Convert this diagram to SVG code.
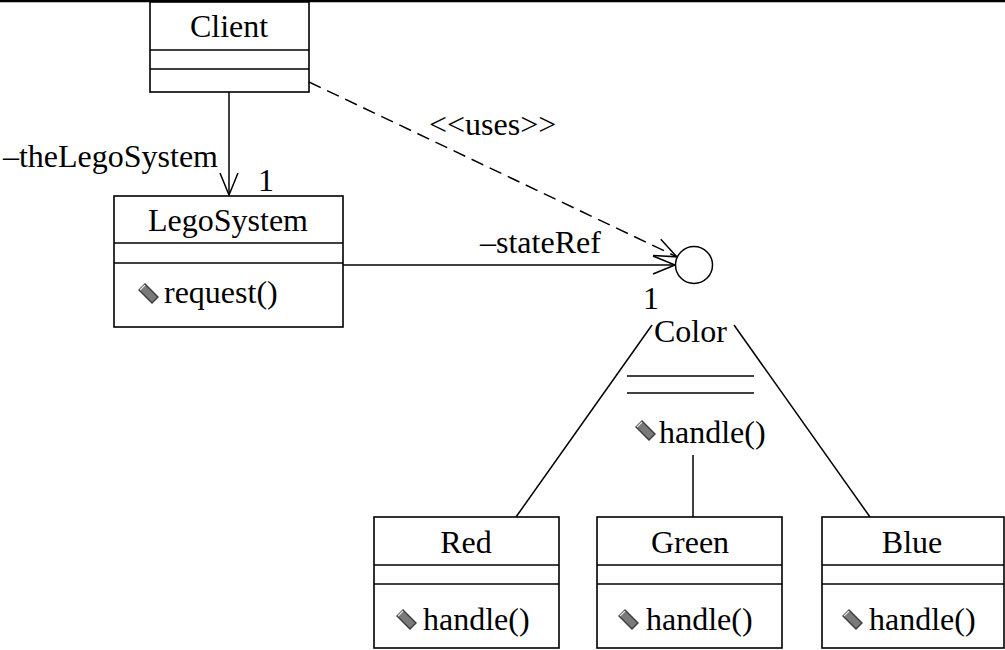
<svg xmlns="http://www.w3.org/2000/svg" width="1005" height="650" viewBox="0 0 1005 650" font-family="'Liberation Serif', 'DejaVu Serif', serif" font-size="32">
<style>
  .box { fill: #ffffff; stroke: #000000; stroke-width: 1.6; }
  .sep { stroke: #000000; stroke-width: 1.6; }
  .ln { fill: none; stroke: #000000; stroke-width: 1.5; }
  .dash { fill: none; stroke: #000000; stroke-width: 1.5; stroke-dasharray: 13 7; }
  .t { font-family: 'Liberation Serif', 'DejaVu Serif', serif; font-size: 32px; fill: #000000; }
  .c { text-anchor: middle; }
  .e { text-anchor: end; }
</style>
<defs>
  <marker id="open" markerUnits="userSpaceOnUse" viewBox="-24 -11 26 22" markerWidth="26" markerHeight="22" refX="0" refY="0" orient="auto" overflow="visible">
    <path d="M -22,-9 L 0,0 L -22,9" fill="none" stroke="#000000" stroke-width="1.5"/>
  </marker>
  <g id="op">
    <polygon points="0,7 6,1 19,14 13,20" fill="#7a7a7a" stroke="#3a3a3a" stroke-width="1.4"/>
    <polyline points="1,7 6,2" fill="none" stroke="#e8e8e8" stroke-width="1.2"/>
  </g>
</defs>
<rect x="0" y="0" width="1005" height="650" fill="#ffffff"/>
<line x1="0" y1="1" x2="1005" y2="1" stroke="#000000" stroke-width="2.5"/>

<g id="connectors">
  <line class="ln" x1="229" y1="92" x2="229" y2="195" marker-end="url(#open)"/>
  <line class="ln" x1="343" y1="265" x2="675" y2="265" marker-end="url(#open)"/>
  <line class="dash" x1="309" y1="82" x2="676.8" y2="256.8" marker-end="url(#open)"/>
  <line class="ln" x1="652" y1="325" x2="516" y2="517"/>
  <line class="ln" x1="734" y1="325" x2="870" y2="517"/>
  <line class="ln" x1="693" y1="455" x2="693" y2="517"/>
  <text class="t e" x="218" y="167">–theLegoSystem</text>
  <text class="t" x="258" y="191">1</text>
  <text class="t" x="429" y="135">&lt;&lt;uses&gt;&gt;</text>
  <text class="t" x="480" y="253">–stateRef</text>
  <text class="t" x="643" y="309">1</text>
</g>

<g id="client">
  <rect class="box" x="150" y="2" width="159" height="90"/>
  <line class="sep" x1="150" y1="50" x2="309" y2="50"/>
  <line class="sep" x1="150" y1="69" x2="309" y2="69"/>
  <text class="t c" x="229" y="37">Client</text>
</g>

<g id="legosystem">
  <rect class="box" x="114" y="196" width="229" height="131"/>
  <line class="sep" x1="114" y1="243" x2="343" y2="243"/>
  <line class="sep" x1="114" y1="263" x2="343" y2="263"/>
  <text class="t c" x="228" y="231">LegoSystem</text>
  <use href="#op" x="139" y="283"/>
  <text class="t" x="164" y="303">request()</text>
</g>

<g id="color">
  <circle cx="694" cy="265" r="18.5" fill="#ffffff" stroke="#000000" stroke-width="1.5"/>
  <text class="t" x="654" y="342">Color</text>
  <line class="sep" x1="627" y1="376" x2="754" y2="376"/>
  <line class="sep" x1="627" y1="393" x2="754" y2="393"/>
  <use href="#op" x="636" y="420"/>
  <text class="t" x="659" y="443">handle()</text>
</g>

<g id="red">
  <rect class="box" x="374" y="517" width="185" height="131"/>
  <line class="sep" x1="374" y1="565" x2="559" y2="565"/>
  <line class="sep" x1="374" y1="584" x2="559" y2="584"/>
  <text class="t c" x="466" y="553">Red</text>
  <use href="#op" x="397" y="609"/>
  <text class="t" x="423" y="630">handle()</text>
</g>

<g id="green">
  <rect class="box" x="597" y="517" width="185" height="131"/>
  <line class="sep" x1="597" y1="565" x2="782" y2="565"/>
  <line class="sep" x1="597" y1="584" x2="782" y2="584"/>
  <text class="t c" x="690" y="553">Green</text>
  <use href="#op" x="619" y="609"/>
  <text class="t" x="646" y="630">handle()</text>
</g>

<g id="blue">
  <rect class="box" x="822" y="517" width="182" height="131"/>
  <line class="sep" x1="822" y1="565" x2="1004" y2="565"/>
  <line class="sep" x1="822" y1="584" x2="1004" y2="584"/>
  <text class="t c" x="912" y="553">Blue</text>
  <use href="#op" x="843" y="609"/>
  <text class="t" x="869" y="630">handle()</text>
</g>
</svg>
